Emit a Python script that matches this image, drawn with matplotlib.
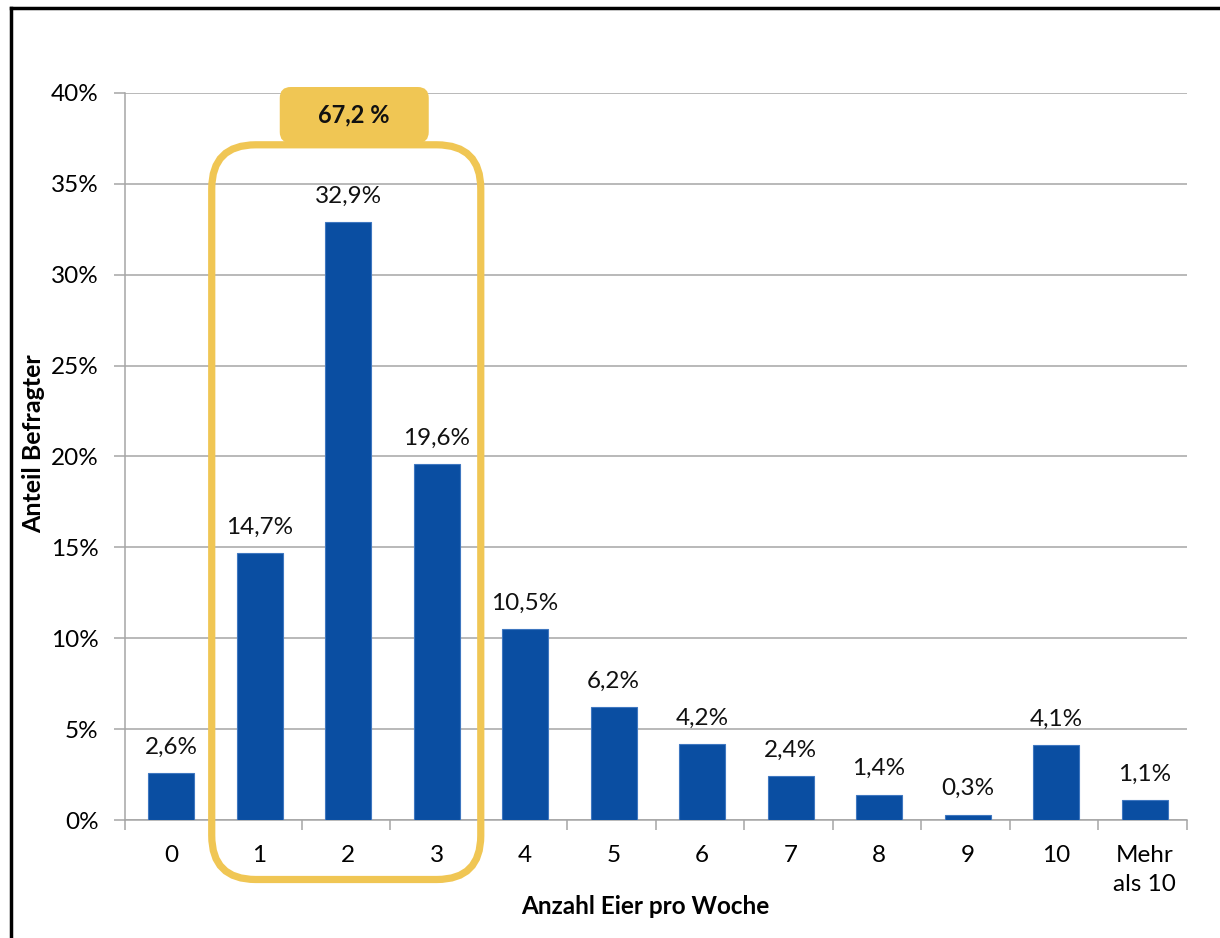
import matplotlib
matplotlib.use("Agg")
import matplotlib.pyplot as plt
from matplotlib.patches import FancyBboxPatch
from matplotlib.ticker import FixedLocator, NullFormatter
import numpy as np

plt.rcParams['font.family'] = ['Lato', 'DejaVu Sans']

categories = ["0", "1", "2", "3", "4", "5", "6", "7", "8", "9", "10", "Mehr\nals 10"]
values = [2.6, 14.7, 32.9, 19.6, 10.5, 6.2, 4.2, 2.4, 1.4, 0.3, 4.1, 1.1]
value_labels = ["2,6%", "14,7%", "32,9%", "19,6%", "10,5%", "6,2%", "4,2%",
                "2,4%", "1,4%", "0,3%", "4,1%", "1,1%"]
y_ticks = [0, 5, 10, 15, 20, 25, 30, 35, 40]
y_tick_labels = ["0%", "5%", "10%", "15%", "20%", "25%", "30%", "35%", "40%"]
group_first, group_last = 1, 3
group_label = "67,2 %"

BLUE = "#0A4EA2"
YELLOW = "#F0C654"
GRID = "#A6A6A6"

W, H = 1220, 938
fig = plt.figure(figsize=(W / 100, H / 100), dpi=100)
ax = fig.add_axes([125 / W, 1 - 820 / H, (1187 - 125) / W, (820 - 93) / H])

x = np.arange(len(categories))
ax.bar(x + 0.02, values, width=0.52, color=BLUE, edgecolor="#3F77C0", linewidth=0.8, zorder=3)

for xi, v, lab in zip(x, values, value_labels):
    ax.annotate(lab, (xi + 0.02, v), xytext=(0, 11), textcoords="offset points",
                ha="center", va="bottom", fontsize=17.5, color="#111111")

ax.set_xlim(-0.5, len(categories) - 0.5)
ax.set_ylim(0, 40)
ax.set_yticks(y_ticks)
ax.set_yticklabels(y_tick_labels, fontsize=17.5)
ax.yaxis.grid(True, color=GRID, linewidth=1.1, zorder=0)
ax.set_axisbelow(True)

# category labels centred, tick marks on category boundaries
ax.set_xticks(x + 0.02)
ax.set_xticklabels(categories, fontsize=17.5, linespacing=1.46, va="top")
ax.tick_params(axis="x", which="major", length=0, pad=18)
ax.xaxis.set_minor_locator(FixedLocator(np.arange(-0.5, len(categories), 1.0)))
ax.xaxis.set_minor_formatter(NullFormatter())
ax.tick_params(axis="x", which="minor", length=7, color=GRID, width=1.1)
ax.tick_params(axis="y", length=8, color=GRID, width=1.1, pad=11)

for s in ("top", "right"):
    ax.spines[s].set_visible(False)
for s in ("left", "bottom"):
    ax.spines[s].set_color(GRID)
    ax.spines[s].set_linewidth(1.1)

ax.set_ylabel("Anteil Befragter", fontsize=18, fontweight="bold")
ax.yaxis.set_label_coords(-0.075, 0.518)
ax.set_xlabel("Anzahl Eier pro Woche", fontsize=17.5, fontweight="bold")
ax.xaxis.set_label_coords(0.49, -0.103)

# rounded frame around the highlighted categories (drawn in pixel space)
fig.canvas.draw()
to_px = ax.transData.transform
x0 = to_px((group_first - 0.52, 0))[0]
x1 = to_px((group_last + 0.52, 0))[0]
y_top = to_px((0, 37.15))[1]
y_bot = H - 879.5
rad = 44
frame = FancyBboxPatch((x0 + rad, y_bot + rad), (x1 - x0) - 2 * rad, (y_top - y_bot) - 2 * rad,
                       boxstyle=f"round,pad={rad}", transform=None,
                       facecolor="none", edgecolor=YELLOW, linewidth=5.2, zorder=5)
fig.patches.append(frame)

# label box above the frame
bw, bh, br = 149, 56, 11
cx = (x0 + x1) / 2 + 8
by = H - 143
box = FancyBboxPatch((cx - bw / 2 + br, by + br), bw - 2 * br, bh - 2 * br,
                     boxstyle=f"round,pad={br}", transform=None,
                     facecolor=YELLOW, edgecolor="none", zorder=6)
fig.patches.append(box)
fig.text(cx / W, (by + bh / 2) / H, group_label, ha="center", va="center",
         fontsize=17, fontweight="bold", color="#111111", zorder=7)

# outer frame lines (top and left)
fig.add_artist(plt.Line2D([10.5 / W, 1], [1 - 8 / H, 1 - 8 / H], color="black", linewidth=2.5))
fig.add_artist(plt.Line2D([10.5 / W, 10.5 / W], [0, 1 - 8 / H], color="black", linewidth=2.5))

fig.savefig("out.png", dpi=100, facecolor="white")
